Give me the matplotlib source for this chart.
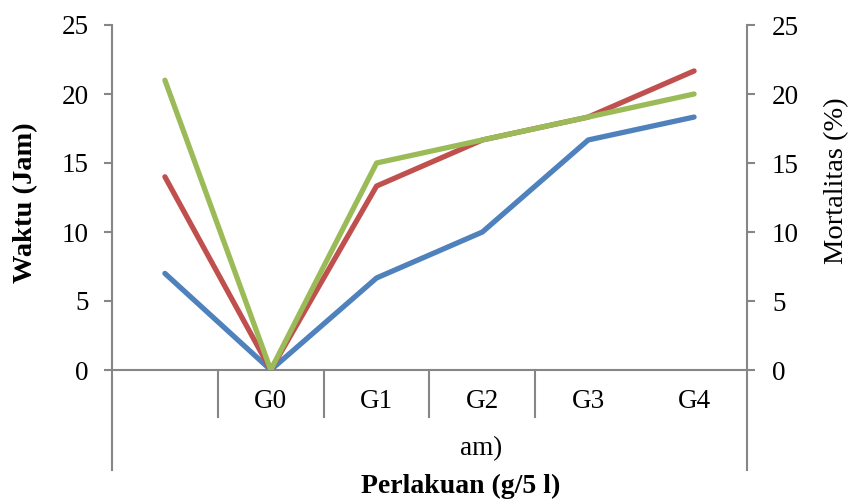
import matplotlib
matplotlib.use("Agg")
import matplotlib.pyplot as plt
from matplotlib.lines import Line2D

plt.rcParams['font.family'] = ['Liberation Serif', 'DejaVu Serif']

# data
categories = ['', 'G0', 'G1', 'G2', 'G3', 'G4']
blue_vals = [7, 0, 6.67, 10, 16.67, 18.33]
red_vals = [14, 0, 13.33, 16.67, 18.33, 21.67]
green_vals = [21, 0, 15, 16.67, 18.33, 20]
yticks = [0, 5, 10, 15, 20, 25]
group_label = 'am)'

W, H = 853, 501
fig = plt.figure(figsize=(W / 100, H / 100), dpi=100)
left, right, y0, ytop = 112, 747, 370, 25
ax = fig.add_axes([left / W, 1 - y0 / H, (right - left) / W, (y0 - ytop) / H])

gray = '#868686'
xs = [i + 0.5 for i in range(len(categories))]
ax.plot(xs, blue_vals, color='#4F81BD', lw=3.8, solid_capstyle='round', zorder=3)
ax.plot(xs, red_vals, color='#C0504D', lw=3.8, solid_capstyle='round', zorder=3)
ax.plot(xs, green_vals, color='#9BBB59', lw=3.8, solid_capstyle='round', zorder=3)

ax.set_xlim(0, len(categories))
ax.set_ylim(0, 25)
ax.set_yticks(yticks)
ax.set_xticks([])
for s in ['top', 'right']:
    ax.spines[s].set_visible(False)
for s in ['left', 'bottom']:
    ax.spines[s].set_color(gray)
    ax.spines[s].set_linewidth(1.5)
ax.tick_params(axis='y', colors=gray, labelcolor='black', labelsize=19.5,
               length=6, width=1.5, direction='out', pad=11)

ax2 = ax.twinx()
ax2.set_ylim(0, 25)
ax2.set_yticks(yticks)
for s in ['top', 'left', 'bottom']:
    ax2.spines[s].set_visible(False)
ax2.spines['right'].set_color(gray)
ax2.spines['right'].set_linewidth(1.5)
ax2.tick_params(axis='y', colors=gray, labelcolor='black', labelsize=19.5,
                length=6, width=1.5, direction='out', pad=12)

# category separators and outer frame lines below the axis
trans = ax.get_xaxis_transform()
sep_bottom = -(417 - y0) / (y0 - ytop)
out_bottom = -(470 - y0) / (y0 - ytop)
for i in range(1, 5):
    ax.add_line(Line2D([i, i], [0, sep_bottom], transform=trans, color=gray,
                       lw=1.5, clip_on=False))
for i in [0, len(categories)]:
    ax.add_line(Line2D([i, i], [0, out_bottom], transform=trans, color=gray,
                       lw=1.5, clip_on=False))
for x, lab in zip(xs, categories):
    ax.text(x, -(401 - y0) / (y0 - ytop), lab, transform=trans, ha='center',
            va='center', fontsize=19.5)

fig.text(481 / W, 1 - 449 / H, group_label, ha='center', va='center', fontsize=19.5)
fig.text(461 / W, 1 - 486 / H, 'Perlakuan (g/5 l)', ha='center', va='center',
         fontsize=20, fontweight='bold')
fig.text(26 / W, 1 - 203 / H, 'Waktu (Jam)', ha='center', va='center',
         rotation=90, fontsize=20.5, fontweight='bold')
fig.text(837 / W, 1 - 181 / H, 'Mortalitas (%)', ha='center', va='center',
         rotation=90, fontsize=20.5)

fig.savefig('out.png', dpi=100)
